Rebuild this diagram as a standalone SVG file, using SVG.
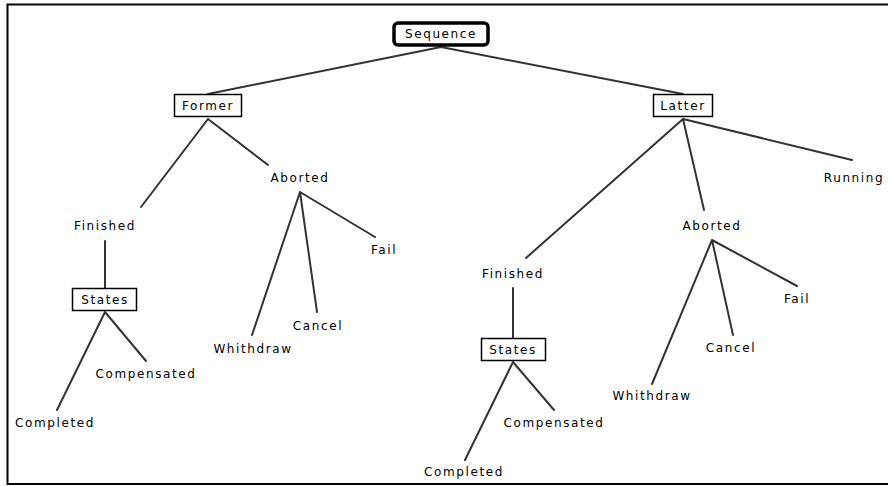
<svg xmlns="http://www.w3.org/2000/svg" width="888" height="486" viewBox="0 0 888 486">
  <style>
    text { font-family: "DejaVu Sans", "Liberation Sans", sans-serif; font-size: 12px; letter-spacing: 1.6px; fill: #000; text-anchor: middle; dominant-baseline: central; }
    .box { fill: #fff; stroke: #000; stroke-width: 1.5; }
    .root { fill: #fff; stroke: #000; stroke-width: 3.5; }
    .edge { stroke: #333; stroke-width: 2; fill: none; stroke-linecap: round; }
  </style>
  <rect x="0" y="0" width="888" height="486" fill="#fff"/>
  <rect x="7.5" y="4.5" width="884" height="479.5" fill="none" stroke="#000" stroke-width="2"/>

  <g id="connectors">
    <path class="edge" d="M441 47 L208 94 M441 47 L683 94"/>
    <path class="edge" d="M208 119 L141 207 M208 119 L268 165"/>
    <path class="edge" d="M105 241 L105 288"/>
    <path class="edge" d="M105 312 L57 410 M105 312 L146 361"/>
    <path class="edge" d="M300 192 L252 335 M300 192 L317 312 M300 192 L375 237"/>
    <path class="edge" d="M683 119 L526 258 M683 119 L704 210 M683 119 L852 160"/>
    <path class="edge" d="M513 288 L513 338"/>
    <path class="edge" d="M513 362 L465 460 M513 362 L554 410"/>
    <path class="edge" d="M712 240 L652 384 M712 240 L733 335 M712 240 L797 286"/>
  </g>

  <g id="sequence">
    <rect class="root" x="394" y="23" width="94" height="22" rx="4"/>
    <text x="441" y="34">Sequence</text>
  </g>
  <g id="former">
    <rect class="box" x="174.5" y="94.5" width="67" height="22"/>
    <text x="208" y="105.5">Former</text>
  </g>
  <g id="latter">
    <rect class="box" x="653.5" y="94.5" width="59" height="22"/>
    <text x="683" y="105.5">Latter</text>
  </g>
  <g id="former-finished"><text x="105" y="226">Finished</text></g>
  <g id="former-states">
    <rect class="box" x="72.5" y="288.5" width="64" height="22"/>
    <text x="105" y="299.5">States</text>
  </g>
  <g id="former-completed"><text x="55" y="423">Completed</text></g>
  <g id="former-compensated"><text x="146" y="374">Compensated</text></g>
  <g id="former-aborted"><text x="300" y="178">Aborted</text></g>
  <g id="former-withdraw"><text x="253" y="349">Whithdraw</text></g>
  <g id="former-cancel"><text x="318" y="326">Cancel</text></g>
  <g id="former-fail"><text x="384" y="250">Fail</text></g>

  <g id="latter-finished"><text x="513" y="274">Finished</text></g>
  <g id="latter-states">
    <rect class="box" x="481.5" y="338.5" width="64" height="22"/>
    <text x="513" y="349.5">States</text>
  </g>
  <g id="latter-completed"><text x="464" y="472">Completed</text></g>
  <g id="latter-compensated"><text x="554" y="423">Compensated</text></g>
  <g id="latter-aborted"><text x="712" y="226">Aborted</text></g>
  <g id="latter-withdraw"><text x="652" y="396">Whithdraw</text></g>
  <g id="latter-cancel"><text x="731" y="348">Cancel</text></g>
  <g id="latter-fail"><text x="797" y="299">Fail</text></g>
  <g id="latter-running"><text x="854" y="178">Running</text></g>
</svg>
